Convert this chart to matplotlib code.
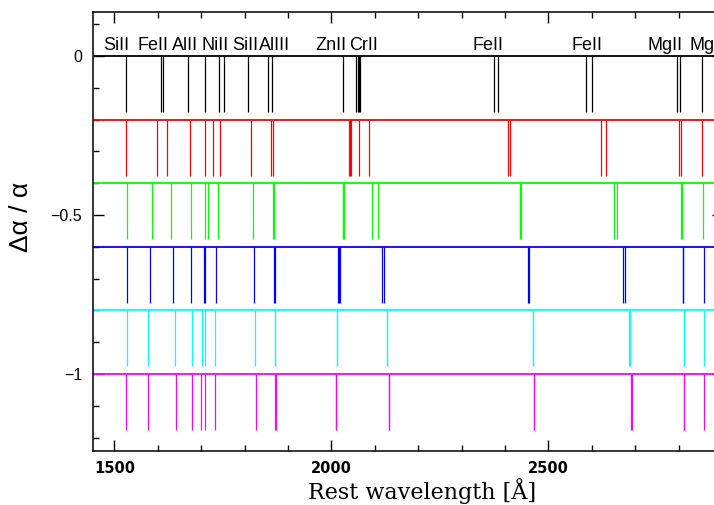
import matplotlib
matplotlib.use("Agg")
import matplotlib.pyplot as plt
from matplotlib.ticker import MultipleLocator, FixedLocator

# offset of each row (delta alpha / alpha) and its colour
rows = [0.0, -0.2, -0.4, -0.6, -0.8, -1.0]
row_colors = ["black", "#ff0000", "#00ff00", "#0000ff", "#00ffff", "#ff00ff"]

# line positions (Angstrom)
lines_00 = [1526.7, 1608.5, 1611.2, 1670.8, 1709.6, 1741.5, 1751.9, 1808.0,
            1854.7, 1862.8, 2026.1, 2056.3, 2062.2, 2062.7, 2066.2,
            2374.5, 2382.8, 2586.7, 2600.2, 2796.4, 2803.5, 2853.0]
lines_02 = [1527.0, 1597.7, 1620.7, 1673.7, 1709.0, 1726.7, 1744.2, 1815.0,
            1861.0, 1865.5, 2039.5, 2042.8, 2045.5, 2063.1, 2086.8,
            2406.4, 2411.7, 2622.1, 2632.2, 2801.1, 2805.7, 2854.5]
lines_04 = [1528.6, 1587.6, 1630.6, 1676.0, 1709.7, 1715.9, 1738.9, 1818.9,
            1865.5, 1867.0, 2025.8, 2027.8, 2030.2, 2093.0, 2107.6,
            2433.5, 2436.0, 2651.3, 2657.5, 2805.6, 2807.0, 2856.4]
lines_06 = [1528.6, 1582.3, 1635.9, 1676.7, 1707.3, 1709.0, 1733.9, 1822.6,
            1868.0, 1869.0, 2016.0, 2017.5, 2019.0, 2115.8, 2120.7,
            2453.0, 2454.8, 2672.7, 2676.0, 2809.8, 2810.8, 2858.0]
lines_08 = [1528.6, 1577.6, 1639.2, 1679.0, 1702.1, 1709.0, 1731.3, 1824.9,
            1869.5, 1870.2, 2012.0, 2012.8, 2128.0, 2128.7,
            2464.0, 2464.7, 2686.3, 2687.0, 2811.6, 2812.2, 2858.7]
lines_10 = [1527.6, 1577.0, 1641.0, 1679.0, 1699.8, 1709.7, 1730.9, 1825.8,
            1871.0, 1871.8, 2009.8, 2010.4, 2132.3, 2133.5,
            2467.0, 2467.6, 2690.4, 2691.8, 2812.3, 2812.9, 2858.7]
all_lines = [lines_00, lines_02, lines_04, lines_06, lines_08, lines_10]

# ion labels above the top row
ion_names = ["SiII", "FeII", "AlII", "NiII", "SiII", "AlIII",
             "ZnII", "CrII", "FeII", "FeII", "MgII"]
ion_x = [1504, 1590, 1663, 1733, 1802, 1868, 1998, 2074, 2362, 2589, 2768]
# last label runs off the right edge, as in the original
last_name = "MgI"
last_x = 2826

yticks = [0, -0.5, -1]
ytick_labels = ["0", "\u22120.5", "\u22121"]
xticks = [1500, 2000, 2500]

depth = 0.176

fig = plt.figure(figsize=(7.14, 5.05), dpi=100)
ax = fig.add_axes([0.1307, 0.1069, 0.8814, 0.8693])

for y0, c, lam in zip(rows, row_colors, all_lines):
    ax.axhline(y0, color=c, lw=1.3)
    ax.vlines(lam, y0 - depth, y0, colors=c, lw=0.9)

for name, x in zip(ion_names, ion_x):
    ax.text(x, 0.02, name, ha="center", va="baseline", fontsize=13,
            family="Liberation Sans")
ax.text(last_x, 0.02, last_name, ha="left", va="baseline", fontsize=13,
        family="Liberation Sans", clip_on=False)

ax.set_xlim(1451.5, 2901.5)
ax.set_ylim(-1.242, 0.138)

ax.xaxis.set_major_locator(FixedLocator(xticks))
ax.xaxis.set_minor_locator(MultipleLocator(100))
ax.yaxis.set_major_locator(FixedLocator(yticks))
ax.yaxis.set_minor_locator(MultipleLocator(0.1))
ax.set_yticklabels(ytick_labels, family="Liberation Sans", fontsize=11.5)
ax.set_xticklabels([str(t) for t in xticks], family="DejaVu Sans",
                   fontsize=10.5, fontweight="bold")

ax.tick_params(which="both", direction="in", top=True, right=True, width=1)
ax.tick_params(which="major", length=8)
ax.tick_params(which="minor", length=4)
ax.tick_params(axis="y", pad=8)
ax.tick_params(axis="x", pad=7)
for s in ax.spines.values():
    s.set_linewidth(1.1)

ax.set_xlabel("Rest wavelength [\u00c5]", family="DejaVu Serif", fontsize=16)
ax.xaxis.set_label_coords(0.523, -0.062)
ax.set_ylabel("\u0394\u03b1 / \u03b1", family="Liberation Sans", fontsize=19)
ax.yaxis.set_label_coords(-0.096, 0.534)

fig.savefig("out.png", dpi=100)
